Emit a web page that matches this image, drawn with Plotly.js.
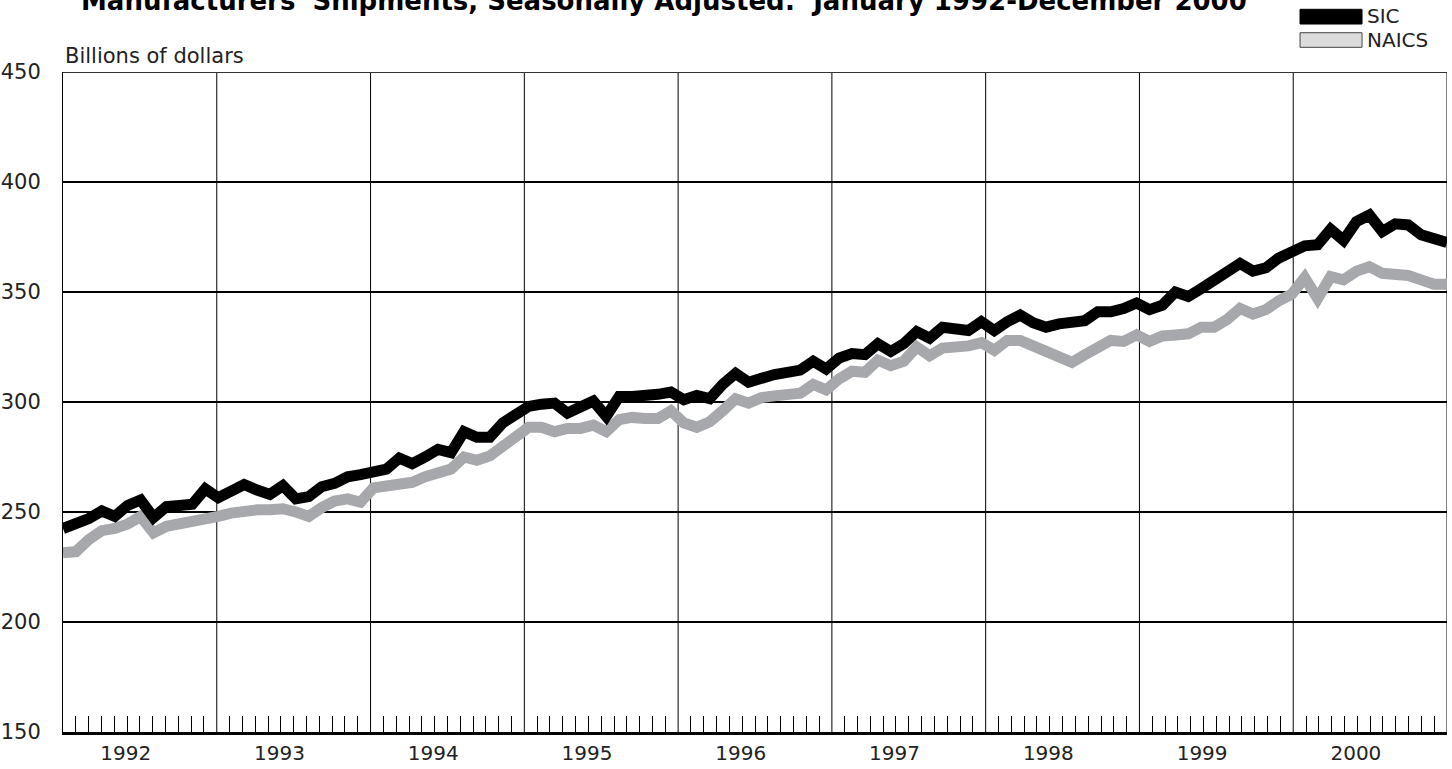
<!DOCTYPE html>
<html>
<head>
<meta charset="utf-8">
<script src="https://cdn.plot.ly/plotly-3.0.1.min.js"></script>
<style>
  html, body { margin: 0; padding: 0; background: #ffffff; }
  #chart { width: 1452px; height: 769px; }
</style>
</head>
<body>
<div id="chart"></div>
<script>
// Data: monthly values, January 1992 - December 2000 (billions of dollars)
const years = ['1992','1993','1994','1995','1996','1997','1998','1999','2000'];

const sic = [
  242.5,244.5,247,250.5,248,253,255.5,247.5,252.5,253,253.5,260.5,
  256.5,259.5,262.5,260,258,262,256,257,261.5,263,266,267,
  268.5,269.5,274.5,272,275,278.5,277,286.5,284,284,290.5,294.5,
  298,299,299.5,295,298,300.5,293.5,302.5,302.5,302.5,303.5,304.5,
  301,303,301.5,308,313,309,311,312.5,313.5,314.5,318.5,315,
  320,322,321.5,326.5,323,326.5,332,329,334,333,332.5,336.5,
  332.5,336.5,339.5,336,334,335.5,336,337,341,341,342.5,345,
  342,344,350,348,351.5,355.5,358.5,363,359.5,361,365.5,368.5,
  371,371.5,378.5,373.5,382,385,377.5,381,380.5,376,374,372.5
];

const naics = [
  231.5,232,237.5,241.5,242.5,244.5,248,240.5,243.5,244.5,245,246,
  248,249.5,250.5,251,251,251.5,250,248,252,255,256,254.5,
  261,261.5,263,263.5,266,267.5,269.5,275,273.5,275.5,279.5,284.5,
  288.5,288.5,286.5,288,288,289.5,286.5,292,293,292.5,292.5,296,
  290.5,288.5,291,296,301.5,299.5,302,302.8,303.3,304,308,305.5,
  310.5,314,313.5,319,316.5,318.5,325,321,324.5,324.5,325.5,327,
  323.5,328,328,325.5,323,320.5,318,321.5,324.5,328,327.5,330.5,
  327.5,330,330.5,331,334,334,337.5,342.5,340,342,346,349,
  356.5,347,357,355.5,359.5,361.5,358.5,358,357.5,355.5,353.5,353.5
];

const yTicks = [150, 200, 250, 300, 350, 400, 450];

// ---- derived positions ----
const n = sic.length;
const xIdx = sic.map((_, i) => i);
const span = n - 1;
const yearW = span / years.length;
const monthW = span / n;

const yearLabelPos = years.map((_, k) => k * yearW + yearW / 2 - 1.1);
const monthTicks = [];
for (let k = 0; k < years.length; k++) {
  for (let m = 1; m < 12; m++) monthTicks.push(k * yearW + m * monthW);
}

const shapes = [];
for (let k = 1; k <= years.length; k++) {
  shapes.push({
    type: 'line', xref: 'x', yref: 'paper',
    x0: k * yearW, x1: k * yearW, y0: 0, y1: 1,
    line: { color: '#000000', width: 1 }, layer: 'below'
  });
}
// top border at the highest tick value
shapes.push({
  type: 'line', xref: 'paper', yref: 'y',
  x0: 0, x1: 1, y0: yTicks[yTicks.length - 1], y1: yTicks[yTicks.length - 1],
  line: { color: '#333333', width: 2 }, layer: 'below'
});
// legend boxes
shapes.push({
  type: 'rect', xref: 'paper', yref: 'paper',
  x0: 0.8938, x1: 0.9386, y0: 1.0727, y1: 1.095,
  fillcolor: '#000000', line: { color: '#000000', width: 1 }
});
shapes.push({
  type: 'rect', xref: 'paper', yref: 'paper',
  x0: 0.8938, x1: 0.9386, y0: 1.0374, y1: 1.0595,
  fillcolor: '#dcdcdc', line: { color: '#444444', width: 1 }
});

const traces = [
  {
    x: xIdx, y: naics, name: 'NAICS', type: 'scatter', mode: 'lines',
    line: { color: '#a6a8ab', width: 11 }, hoverinfo: 'x+y'
  },
  {
    x: xIdx, y: sic, name: 'SIC', type: 'scatter', mode: 'lines',
    line: { color: '#000000', width: 11 }, hoverinfo: 'x+y'
  }
];

const fontFam = 'DejaVu Sans, sans-serif';

const layout = {
  width: 1452, height: 769,
  margin: { l: 63, r: 5, t: 72, b: 37 },
  paper_bgcolor: '#ffffff', plot_bgcolor: '#ffffff',
  showlegend: false,
  font: { family: fontFam, color: '#222222', size: 20 },
  xaxis: {
    range: [0, span],
    tickmode: 'array', tickvals: yearLabelPos, ticktext: years,
    ticks: '', showgrid: false, zeroline: false,
    showline: true, linecolor: '#000000', linewidth: 2.5,
    ticklabelstandoff: 1,
    tickfont: { family: fontFam, size: 20, color: '#222222' },
    minor: {
      tickmode: 'array', tickvals: monthTicks,
      ticks: 'inside', ticklen: 16, tickwidth: 1, tickcolor: '#000000',
      showgrid: false
    },
    fixedrange: true
  },
  yaxis: {
    range: [150, 450],
    tickmode: 'array', tickvals: yTicks,
    ticks: '', showgrid: true, gridcolor: '#000000', gridwidth: 2,
    zeroline: false, showline: true, linecolor: '#000000', linewidth: 1,
    ticklabelstandoff: 17,
    tickfont: { family: fontFam, size: 21, color: '#222222' },
    fixedrange: true
  },
  shapes: shapes,
  annotations: [
    {
      text: "Manufacturers' Shipments, Seasonally Adjusted:  January 1992-December 2000",
      xref: 'paper', yref: 'paper', x: 0.0115, y: 1.1075,
      xanchor: 'left', yanchor: 'middle', showarrow: false,
      font: { family: fontFam, size: 26, color: '#000000', weight: 'bold' }
    },
    {
      text: 'Billions of dollars',
      xref: 'paper', yref: 'paper', x: 0, y: 1.003,
      xanchor: 'left', yanchor: 'bottom', showarrow: false,
      font: { family: fontFam, size: 21, color: '#222222' }
    },
    {
      text: 'SIC', xref: 'paper', yref: 'paper', x: 0.9405, y: 1.0841,
      xanchor: 'left', yanchor: 'middle', showarrow: false,
      font: { family: fontFam, size: 20, color: '#222222' }
    },
    {
      text: 'NAICS', xref: 'paper', yref: 'paper', x: 0.9405, y: 1.0485,
      xanchor: 'left', yanchor: 'middle', showarrow: false,
      font: { family: fontFam, size: 20, color: '#222222' }
    }
  ]
};

Plotly.newPlot('chart', traces, layout, { displayModeBar: false, staticPlot: true });
</script>
</body>
</html>
